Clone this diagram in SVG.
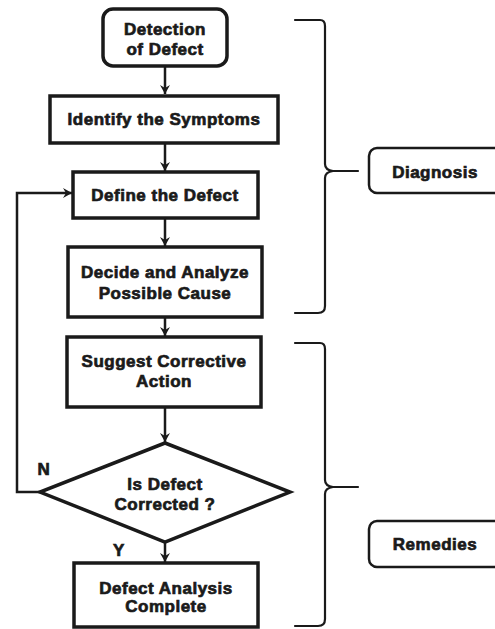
<svg xmlns="http://www.w3.org/2000/svg" width="495" height="629" viewBox="0 0 495 629">
<defs>
<style>
.box{fill:#fff;stroke:#1a1a1a;stroke-width:3.5}
.lbl{fill:#fff;stroke:#1a1a1a;stroke-width:2.5}
.t{font-family:"Liberation Sans",Arial,sans-serif;font-weight:bold;font-size:17px;letter-spacing:0.5px;fill:#1a1a1a;stroke:#1a1a1a;stroke-width:0.7;text-anchor:middle}
.c{fill:none;stroke:#1a1a1a;stroke-width:2.5}
.br{fill:none;stroke:#1a1a1a;stroke-width:2.2;stroke-linecap:round}
</style>
<marker id="ah" markerWidth="10" markerHeight="10" refX="9" refY="5" orient="auto" markerUnits="userSpaceOnUse">
<path d="M0,0 L9,5 L0,10 L3,5 Z" fill="#1a1a1a"/>
</marker>
</defs>
<rect width="495" height="629" fill="#fff"/>

<g id="connectors">
<line class="c" x1="165" y1="66" x2="165" y2="94" marker-end="url(#ah)"/>
<line class="c" x1="165" y1="143" x2="165" y2="171" marker-end="url(#ah)"/>
<line class="c" x1="165" y1="218" x2="165" y2="246" marker-end="url(#ah)"/>
<line class="c" x1="165" y1="317" x2="165" y2="336" marker-end="url(#ah)"/>
<line class="c" x1="165" y1="407" x2="165" y2="442" marker-end="url(#ah)"/>
<line class="c" x1="165" y1="542" x2="165" y2="562" marker-end="url(#ah)"/>
<polyline class="c" points="40,492 17,492 17,193 72,193" marker-end="url(#ah)"/>
<text class="t" x="44" y="475">N</text>
<text class="t" x="119" y="556">Y</text>
</g>

<g id="brackets">
<path class="br" d="M295,20 L320,20 Q325,20 325,26 L325,164 Q325,170 333,171 L358,171 M333,171 Q325,172 325,178 L325,306 Q325,313 318,313 L295,313"/>
<path class="br" d="M295,343 L320,343 Q325,343 325,349 L325,480 Q325,486 333,487 L358,487 M333,487 Q325,488 325,494 L325,619 Q325,626 318,626 L295,626"/>
</g>

<g id="detection">
<rect class="box" x="103" y="9" width="124" height="57" rx="10"/>
<text class="t" x="165" y="35">Detection</text>
<text class="t" x="165" y="55">of Defect</text>
</g>

<g id="identify">
<rect class="box" x="50" y="96" width="228" height="47"/>
<text class="t" x="164" y="125">Identify the Symptoms</text>
</g>

<g id="define">
<rect class="box" x="73" y="172" width="185" height="46"/>
<text class="t" x="165" y="201">Define the Defect</text>
</g>

<g id="decide">
<rect class="box" x="68" y="247" width="194" height="70"/>
<text class="t" x="165" y="278">Decide and Analyze</text>
<text class="t" x="165" y="299">Possible Cause</text>
</g>

<g id="suggest">
<rect class="box" x="67" y="337" width="194" height="70"/>
<text class="t" x="164" y="367">Suggest Corrective</text>
<text class="t" x="164" y="387">Action</text>
</g>

<g id="decision">
<polygon class="box" points="165,443 290,492 165,542 40,492"/>
<text class="t" x="165" y="490">Is Defect</text>
<text class="t" x="165" y="510">Corrected ?</text>
</g>

<g id="complete">
<rect class="box" x="74" y="563" width="184" height="64"/>
<text class="t" x="166" y="594">Defect Analysis</text>
<text class="t" x="166" y="612">Complete</text>
</g>

<g id="diagnosis">
<rect class="lbl" x="369" y="148" width="140" height="45" rx="8"/>
<text class="t" x="435" y="178">Diagnosis</text>
</g>

<g id="remedies">
<rect class="lbl" x="369" y="521" width="140" height="46" rx="8"/>
<text class="t" x="435" y="550">Remedies</text>
</g>
</svg>
